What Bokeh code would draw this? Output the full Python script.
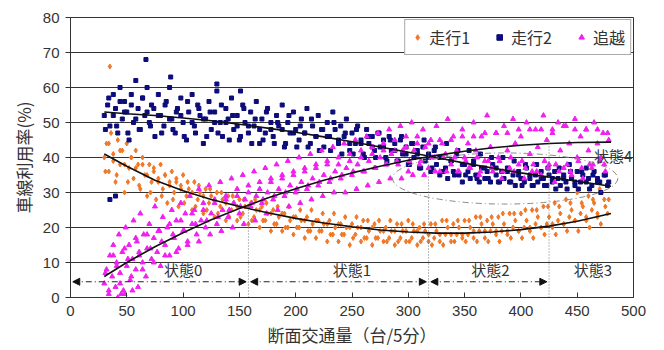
from bokeh.plotting import figure
from bokeh.models import (Range1d, FixedTicker, Legend, LegendItem, Label,
                          Arrow, NormalHead)
from bokeh.embed import file_html
from bokeh.resources import INLINE

# ---------------- data ----------------
x_ticks = [0, 50, 100, 150, 200, 250, 300, 350, 400, 450, 500]
y_ticks = [0, 10, 20, 30, 40, 50, 60, 70, 80]

series_names = ["走行1", "走行2", "追越"]

# scattered sample points
lane1_points = [
    (30, 40), (32, 44), (34, 36), (35, 66), (36, 47), (38, 41), (40, 33), (42, 45), (44, 38), (46, 42),
    (48, 30), (50, 44), (52, 37), (54, 40), (56, 34), (58, 42), (60, 38), (62, 31), (64, 40), (66, 35),
    (68, 29), (70, 38), (72, 33), (74, 36), (76, 28), (78, 34), (80, 38), (82, 31), (84, 35), (86, 27),
    (88, 33), (90, 36), (92, 30), (94, 33), (96, 26), (98, 32), (100, 35), (103, 29), (105, 31), (108, 25),
    (110, 33), (113, 28), (115, 30), (118, 24), (120, 31), (123, 27), (125, 29), (128, 23), (130, 30), (133, 26),
    (135, 28), (138, 22), (140, 29), (143, 25), (145, 27), (148, 22), (150, 28), (153, 24), (155, 26), (158, 21),
    (160, 27), (163, 23), (165, 25), (168, 20), (170, 26), (173, 22), (175, 24), (178, 19), (180, 25), (183, 21),
    (185, 23), (188, 19), (190, 24), (193, 20), (195, 22), (198, 18), (200, 23), (203, 20), (205, 22), (208, 17),
    (210, 23), (213, 19), (215, 21), (218, 17), (220, 22), (223, 19), (225, 21), (228, 16), (230, 22), (233, 18),
    (235, 20), (238, 16), (240, 21), (243, 18), (245, 20), (248, 15), (250, 21), (253, 18), (255, 20), (258, 16),
    (260, 22), (263, 17), (265, 19), (268, 15), (270, 21), (273, 17), (275, 19), (278, 16), (280, 20), (283, 17),
    (285, 19), (288, 15), (290, 21), (293, 17), (295, 19), (298, 16), (300, 22), (303, 17), (305, 19), (308, 15),
    (310, 20), (313, 17), (315, 19), (318, 16), (320, 21), (323, 17), (325, 19), (328, 16), (330, 22), (333, 18),
    (335, 20), (338, 16), (340, 21), (343, 18), (345, 20), (348, 17), (350, 22), (353, 18), (355, 20), (358, 17),
    (360, 23), (363, 19), (365, 21), (368, 17), (370, 22), (373, 19), (375, 21), (378, 18), (380, 23), (383, 19),
    (385, 21), (388, 18), (390, 24), (393, 20), (395, 22), (398, 19), (400, 24), (403, 20), (405, 22), (408, 19),
    (410, 25), (413, 21), (415, 23), (418, 20), (420, 26), (423, 21), (425, 23), (428, 20), (430, 27), (433, 22),
    (435, 24), (438, 21), (440, 28), (443, 23), (445, 25), (448, 22), (450, 30), (453, 24), (455, 26), (458, 23),
    (460, 29), (463, 25), (465, 27), (468, 24), (470, 31), (475, 26), (478, 28),
]

lane2_points = [
    (30, 52), (33, 55), (35, 49), (38, 58), (40, 54), (42, 47), (44, 60), (46, 51), (48, 56), (50, 53),
    (52, 45), (54, 58), (56, 50), (58, 62), (60, 54), (62, 48), (64, 57), (66, 52), (67, 68), (68, 60),
    (70, 50), (72, 55), (75, 46), (78, 58), (80, 52), (83, 49), (85, 56), (88, 60), (89, 63), (90, 51),
    (93, 47), (95, 54), (98, 57), (100, 50), (103, 45), (105, 53), (108, 58), (110, 49), (113, 55), (115, 52),
    (118, 44), (120, 51), (123, 56), (125, 48), (128, 53), (130, 59), (130, 61), (133, 50), (135, 46), (138, 54),
    (140, 51), (143, 57), (145, 48), (148, 52), (150, 45), (151, 59), (153, 55), (155, 50), (158, 47), (160, 53),
    (163, 49), (165, 56), (168, 44), (170, 51), (173, 47), (175, 54), (178, 50), (180, 46), (183, 52), (185, 49),
    (188, 55), (190, 43), (193, 50), (195, 47), (198, 53), (200, 48), (203, 45), (205, 51), (208, 47), (210, 54),
    (213, 44), (215, 49), (218, 46), (220, 52), (223, 48), (225, 43), (228, 50), (230, 46), (233, 53), (235, 48),
    (238, 44), (240, 49), (243, 46), (245, 51), (248, 42), (250, 47), (253, 44), (255, 49), (258, 45), (260, 41),
    (263, 48), (265, 44), (268, 46), (270, 42), (273, 47), (275, 43), (278, 45), (280, 40), (283, 46), (285, 42),
    (288, 44), (290, 39), (293, 45), (295, 41), (298, 43), (300, 38), (303, 44), (305, 40), (308, 42), (310, 37),
    (313, 43), (315, 39), (318, 41), (320, 36), (323, 42), (325, 38), (328, 35), (330, 40), (333, 37), (335, 34),
    (338, 39), (340, 36), (343, 41), (345, 35), (348, 33), (350, 38), (353, 36), (355, 34), (358, 39), (360, 35),
    (363, 33), (365, 37), (368, 34), (370, 36), (373, 33), (375, 38), (378, 35), (380, 33), (383, 36), (385, 34),
    (388, 37), (390, 33), (393, 35), (395, 32), (398, 36), (400, 34), (403, 33), (405, 37), (408, 34), (410, 32),
    (413, 35), (415, 33), (418, 36), (420, 34), (423, 32), (425, 35), (428, 33), (430, 36), (433, 34), (435, 32),
    (438, 35), (440, 33), (443, 38), (445, 34), (448, 32), (450, 36), (453, 33), (455, 35), (458, 37), (460, 34),
    (463, 32), (465, 36), (468, 34), (470, 33), (475, 35), (478, 33), (35, 28), (40, 29),
]

pass_points = [
    (30, 4), (32, 8), (34, 1), (35, 12), (37, 6), (38, 15), (40, 3), (41, 10), (42, 0), (43, 18),
    (44, 7), (45, 1), (46, 13), (47, 2), (48, 1), (49, 20), (50, 9), (52, 15), (53, 5), (55, 11),
    (55, 2), (56, 22), (58, 8), (59, 16), (60, 3), (61, 13), (62, 24), (64, 10), (65, 18), (67, 6),
    (68, 14), (70, 21), (72, 11), (74, 17), (75, 26), (77, 13), (79, 19), (80, 9), (82, 23), (84, 15),
    (86, 20), (88, 12), (90, 25), (92, 17), (94, 22), (96, 14), (98, 27), (100, 19), (102, 24), (104, 16),
    (106, 29), (108, 21), (110, 25), (112, 18), (114, 31), (116, 22), (118, 27), (120, 20), (123, 32), (125, 24),
    (128, 28), (130, 21), (133, 33), (135, 25), (138, 29), (140, 23), (143, 34), (145, 27), (148, 31), (150, 24),
    (153, 35), (155, 28), (158, 32), (160, 26), (163, 36), (165, 29), (168, 33), (170, 27), (173, 37), (175, 30),
    (178, 34), (180, 28), (183, 38), (185, 31), (188, 35), (190, 29), (193, 39), (195, 32), (198, 36), (200, 30),
    (203, 40), (205, 33), (208, 37), (210, 31), (213, 41), (215, 34), (218, 38), (220, 32), (223, 42), (225, 35),
    (228, 39), (230, 33), (233, 43), (235, 36), (238, 40), (240, 34), (243, 44), (245, 37), (248, 41), (250, 35),
    (253, 45), (255, 38), (258, 42), (260, 36), (263, 46), (265, 39), (268, 43), (270, 37), (273, 47), (275, 40),
    (278, 44), (280, 38), (283, 48), (285, 41), (288, 45), (290, 39), (293, 49), (295, 42), (298, 46), (300, 36),
    (303, 50), (305, 42), (308, 46), (310, 38), (313, 48), (315, 43), (318, 37), (320, 45), (323, 40), (325, 49),
    (328, 36), (330, 44), (333, 41), (335, 51), (338, 38), (340, 46), (343, 42), (345, 36), (348, 48), (350, 40),
    (353, 44), (355, 37), (358, 50), (360, 42), (363, 35), (365, 46), (368, 39), (370, 52), (373, 43), (375, 36),
    (378, 47), (380, 40), (383, 34), (385, 49), (388, 42), (390, 37), (393, 51), (395, 44), (398, 38), (400, 46),
    (403, 34), (405, 50), (408, 41), (410, 36), (413, 48), (415, 43), (418, 35), (420, 52), (423, 45), (425, 38),
    (428, 47), (430, 33), (433, 50), (435, 42), (438, 37), (440, 49), (443, 44), (445, 35), (448, 51), (450, 40),
    (453, 46), (455, 34), (458, 48), (460, 42), (463, 37), (465, 50), (468, 44), (470, 39), (473, 47), (475, 36),
    (478, 45),
]

# dense cores of the clouds (three rows of points per series)
core_x_a = [34, 44, 54, 64, 74, 84, 94, 104, 114, 124, 134, 144, 154, 164, 174, 184, 194, 204, 214, 224, 234, 244,
            254, 264, 274, 284, 294, 304, 314, 324, 334, 344, 354, 364, 374, 384, 394, 404, 414, 424, 434, 444, 454, 464, 474]
core_x_b = [38, 48, 58, 68, 78, 88, 98, 108, 118, 128, 138, 148, 158, 168, 178, 188, 198, 208, 218, 228, 238, 248,
            258, 268, 278, 288, 298, 308, 318, 328, 338, 348, 358, 368, 378, 388, 398, 408, 418, 428, 438, 448, 458, 468, 477]
core_x_c = [31, 41, 51, 61, 71, 81, 91, 101, 111, 121, 131, 141, 151, 161, 171, 181, 191, 201, 211, 221, 231, 241,
            251, 261, 271, 281, 291, 301, 311, 321, 331, 341, 351, 361, 371, 381, 391, 401, 411, 421, 431, 441, 451, 461, 471]

lane1_core_a = [44, 42, 40, 38, 37, 35, 34, 33, 32, 31, 30, 29, 28, 28, 27, 26, 26, 25, 25, 24, 24, 23, 23,
                22, 22, 22, 21, 21, 21, 21, 22, 22, 22, 23, 23, 24, 24, 25, 25, 26, 26, 27, 27, 28, 28]
lane1_core_b = [39, 38, 37, 35, 33, 32, 31, 30, 29, 28, 27, 26, 26, 25, 24, 24, 23, 22, 22, 21, 21, 20, 20,
                20, 19, 19, 19, 19, 18, 18, 18, 18, 19, 19, 19, 19, 19, 20, 20, 21, 21, 22, 22, 23, 24]
lane1_core_c = [36, 35, 33, 32, 30, 29, 28, 27, 26, 25, 24, 23, 23, 22, 22, 21, 20, 20, 19, 19, 18, 18, 17,
                17, 17, 16, 16, 16, 16, 15, 15, 16, 16, 16, 16, 16, 17, 17, 17, 18, 18, 19, 19, 20, 21]

lane2_core_a = [57, 56, 55, 57, 54, 55, 53, 56, 54, 53, 55, 52, 54, 51, 53, 50, 52, 49, 51, 48, 50, 47, 48,
                46, 47, 45, 46, 44, 45, 43, 44, 42, 42, 41, 40, 40, 39, 38, 38, 37, 37, 36, 36, 35, 35]
lane2_core_b = [52, 53, 51, 53, 52, 51, 52, 50, 51, 50, 50, 49, 49, 48, 48, 48, 47, 47, 46, 46, 45, 44, 44,
                43, 43, 42, 41, 41, 40, 40, 39, 38, 38, 37, 37, 36, 35, 35, 34, 34, 34, 33, 33, 33, 32]
lane2_core_c = [48, 49, 47, 48, 49, 47, 48, 46, 47, 46, 47, 45, 46, 44, 45, 44, 44, 43, 43, 42, 42, 41, 41,
                40, 40, 39, 39, 38, 37, 37, 36, 35, 35, 34, 34, 33, 33, 32, 32, 32, 31, 31, 31, 31, 30]

pass_core_a = [12, 14, 17, 18, 19, 21, 22, 24, 25, 27, 28, 29, 30, 31, 33, 34, 35, 36, 37, 38, 38, 39, 40,
               41, 42, 42, 43, 44, 44, 45, 45, 46, 46, 47, 47, 47, 48, 48, 48, 48, 49, 48, 48, 48, 47]
pass_core_b = [7, 9, 11, 12, 14, 16, 18, 19, 21, 22, 23, 25, 26, 27, 28, 29, 30, 31, 32, 33, 34, 35, 36,
               36, 37, 38, 38, 39, 39, 40, 40, 40, 39, 40, 39, 39, 40, 39, 38, 39, 38, 38, 39, 38, 40]
pass_core_c = [2, 4, 6, 8, 10, 12, 13, 15, 16, 18, 19, 20, 21, 22, 24, 25, 26, 27, 28, 29, 30, 30, 31,
               32, 33, 34, 34, 35, 35, 36, 36, 36, 37, 36, 37, 36, 36, 37, 36, 37, 36, 36, 37, 38, 38]

# fitted trend curves
trend_x = [30, 50, 75, 100, 125, 150, 175, 200, 225, 250, 275, 300, 325, 350, 375, 400, 425, 450, 480]
lane1_trend = [41, 37.5, 33.5, 30.5, 28, 26, 24.2, 22.6, 21.3, 20.2, 19.3, 18.7, 18.4, 18.4, 18.7, 19.4, 20.4, 21.8, 24]
lane2_trend = [53, 52.5, 52, 51.3, 50.5, 49.5, 48.4, 47.2, 45.9, 44.5, 43, 41.5, 40, 38.4, 37, 35.6, 34.4, 33.2, 31.8]
pass_trend = [6, 10, 14.5, 18.5, 22.2, 25.4, 28.4, 31.1, 33.5, 35.6, 37.5, 39.2, 40.6, 41.8, 42.8, 43.5, 44, 44.3, 44.4]

# traffic states
state_bounds = [0, 158, 318, 425]
boundary_tops = [26.3, 41.5, 45]
state_labels = ["状態0", "状態1", "状態2", "状態3", "状態4"]
state_label_x = [100, 250, 373, 464, 499]
state_label_y = [8, 8, 8, 8, 40.5]
state_label_align = ["center", "center", "center", "center", "right"]
arrow_y = 4.5
state4_center = (386, 34)
state4_size = (200, 14.6)

colors = ["#F07828", "#0C0C7A", "#F020F0"]
CJK = "Noto Sans CJK JP"
TXT = "#333333"

# ---------------- figure ----------------
p = figure(width=664, height=350, x_range=Range1d(0, 500), y_range=Range1d(0, 80),
           output_backend="svg", toolbar_location=None,
           min_border_left=70, min_border_right=31, min_border_top=17, min_border_bottom=53)
p.background_fill_color = "white"
p.border_fill_color = "white"
p.outline_line_color = "#333333"
p.outline_line_width = 1

p.xaxis.ticker = FixedTicker(ticks=x_ticks)
p.yaxis.ticker = FixedTicker(ticks=y_ticks)
p.xgrid.visible = False
p.ygrid.grid_line_color = "#333333"
p.ygrid.grid_line_width = 1

for ax in (p.xaxis, p.yaxis):
    ax.axis_line_color = "#333333"
    ax.major_tick_line_color = "#333333"
    ax.minor_tick_line_color = None
    ax.major_label_text_font = "Liberation Sans"
    ax.major_label_text_font_size = "15px"
    ax.major_label_text_color = TXT
    ax.axis_label_text_font = CJK
    ax.axis_label_text_font_size = "17px"
    ax.axis_label_text_font_style = "normal"
    ax.axis_label_text_color = TXT

p.xaxis.major_tick_in = 5
p.xaxis.major_tick_out = 0
p.yaxis.major_tick_in = 0
p.yaxis.major_tick_out = 5
p.xaxis.major_label_standoff = 8
p.yaxis.major_label_standoff = 6
p.xaxis.axis_label = "断面交通量（台/5分）"
p.yaxis.axis_label = "車線利用率(%)"
p.xaxis.axis_label_standoff = 3
p.yaxis.axis_label_standoff = 4


def xs(pts):
    return [a for a, b in pts]


def ys(pts):
    return [b for a, b in pts]


# scatter: lane 1, lane 2, passing
r1 = p.scatter(xs(lane1_points) + core_x_a + core_x_b + core_x_c,
               ys(lane1_points) + lane1_core_a + lane1_core_b + lane1_core_c,
               marker="diamond", size=5, color=colors[0])
r2 = p.scatter(xs(lane2_points) + core_x_a + core_x_b + core_x_c,
               ys(lane2_points) + lane2_core_a + lane2_core_b + lane2_core_c,
               marker="square", size=4, color=colors[1])
r3 = p.scatter(xs(pass_points) + core_x_b + core_x_c + core_x_a,
               ys(pass_points) + pass_core_a + pass_core_b + pass_core_c,
               marker="triangle", size=5, color=colors[2])

# trend lines
for tr in (lane1_trend, lane2_trend, pass_trend):
    p.line(trend_x, tr, line_color="#111111", line_width=1.6)

# state boundary lines
for bx, top in zip(state_bounds[1:], boundary_tops):
    p.line([bx, bx], [0, top], line_color="#777777", line_width=1, line_dash="1 2")

# arrows between boundaries
for a, b in zip(state_bounds[:-1], state_bounds[1:]):
    p.add_layout(Arrow(x_start=a + 2, y_start=arrow_y, x_end=b - 2, y_end=arrow_y,
                       line_color="#222222", line_width=1, line_dash="6 3 1 3",
                       start=NormalHead(size=7, fill_color="#111111", line_color="#111111"),
                       end=NormalHead(size=7, fill_color="#111111", line_color="#111111")))

# state 4 ellipse
p.ellipse(x=[state4_center[0]], y=[state4_center[1]], width=state4_size[0], height=state4_size[1],
          fill_alpha=0, line_color="#888888", line_width=1, line_dash="6 3 1 3")

# state labels
for t, lx, ly, al in zip(state_labels, state_label_x, state_label_y, state_label_align):
    p.add_layout(Label(x=lx, y=ly, text=t, text_font=CJK, text_font_size="15px",
                       text_color=TXT, text_align=al, text_baseline="middle",
                       level="overlay"))

# legend
legend = Legend(items=[LegendItem(label=series_names[0], renderers=[r1]),
                       LegendItem(label=series_names[1], renderers=[r2]),
                       LegendItem(label=series_names[2], renderers=[r3])],
                orientation="horizontal", location="top_right",
                label_text_font=CJK, label_text_font_size="16px", label_text_color=TXT,
                glyph_width=14, glyph_height=14, spacing=22, padding=5, margin=2,
                border_line_color="#555555", border_line_width=1.5,
                background_fill_color="white", background_fill_alpha=1)
p.add_layout(legend)

open("out.html", "w").write(file_html(p, INLINE))
